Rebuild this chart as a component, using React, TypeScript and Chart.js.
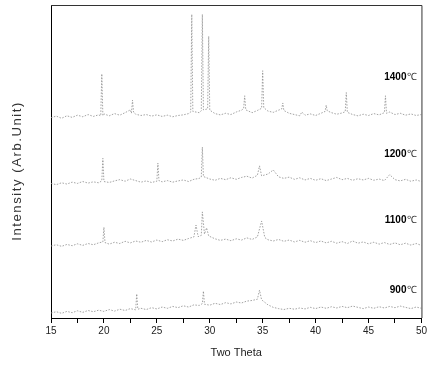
import React, { useEffect, useRef } from 'react';
import { Chart, registerables } from 'chart.js';

Chart.register(...registerables);

// Two-theta positions and intensities (arbitrary units, stacked) for each sample
const theta1400 = [15, 15.5, 16, 16.5, 17, 17.5, 18, 18.5, 19, 19.5, 19.7, 19.8, 19.9, 20, 20.5, 21, 21.5, 22, 22.5, 22.6, 22.7, 22.8, 23, 23.5, 24, 24.5, 25, 25.5, 26, 26.5, 27, 27.5, 28, 28.2, 28.3, 28.4, 29, 29.2, 29.3, 29.4, 29.8, 29.9, 30, 30.5, 31, 31.5, 32, 32.5, 33, 33.2, 33.3, 33.4, 34, 34.5, 34.9, 35, 35.1, 35.5, 36, 36.5, 36.8, 36.9, 37, 37.5, 38, 38.5, 38.7, 39, 39.5, 40, 40.5, 40.9, 41, 41.1, 41.5, 42, 42.5, 42.8, 42.9, 43, 43.5, 44, 44.5, 45, 45.5, 46, 46.5, 46.6, 46.7, 47, 47.5, 48, 48.5, 49, 49.5, 50];
const int1400 = [64.0, 64.5, 63.8, 64.6, 64.1, 64.8, 64.3, 65.0, 64.4, 64.9, 64.6, 78.0, 64.7, 65.2, 64.6, 65.3, 64.8, 65.6, 66.5, 65.4, 69.6, 65.8, 65.1, 64.7, 65.0, 64.5, 64.9, 64.4, 64.8, 64.3, 64.7, 64.9, 65.3, 65.8, 97.0, 66.0, 65.6, 66.2, 97.0, 66.5, 66.8, 90.0, 66.4, 65.3, 64.9, 65.4, 65.0, 65.8, 66.4, 66.9, 71.0, 66.5, 65.6, 66.3, 67.0, 79.0, 67.2, 66.1, 65.7, 66.4, 66.8, 68.7, 66.3, 65.4, 65.0, 64.6, 65.8, 64.8, 65.2, 64.7, 65.4, 66.0, 68.0, 66.2, 65.6, 65.1, 65.5, 65.9, 72.0, 65.7, 65.0, 64.6, 65.1, 64.7, 65.3, 64.9, 65.6, 71.0, 65.4, 65.8, 65.0, 65.4, 64.8, 65.2, 64.7, 65.0];

const theta1200 = [15, 15.5, 16, 16.5, 17, 17.5, 18, 18.5, 19, 19.5, 19.8, 19.9, 20, 20.5, 21, 21.5, 22, 22.5, 23, 23.5, 24, 24.5, 25, 25.1, 25.2, 25.5, 26, 26.5, 27, 27.5, 28, 28.5, 29, 29.2, 29.3, 29.4, 30, 30.5, 31, 31.5, 32, 32.5, 33, 33.5, 34, 34.5, 34.7, 34.9, 35.5, 36, 36.5, 37, 37.5, 38, 38.5, 39, 39.5, 40, 40.5, 41, 41.5, 42, 42.5, 43, 43.5, 44, 44.5, 45, 45.5, 46, 46.5, 47, 47.5, 48, 48.5, 49, 49.5, 50];
const int1200 = [43.0, 42.6, 43.2, 42.8, 43.4, 43.0, 43.6, 43.1, 43.5, 43.2, 43.8, 51.0, 43.6, 43.3, 43.8, 44.2, 43.7, 44.4, 43.9, 43.4, 43.8, 43.3, 43.7, 49.5, 43.9, 43.5, 43.9, 43.4, 43.8, 44.1, 43.6, 44.3, 44.6, 45.0, 54.6, 45.2, 44.4, 44.0, 44.6, 44.2, 44.8, 44.3, 44.9, 45.3, 44.7, 45.6, 48.6, 45.4, 46.0, 47.3, 45.1, 44.6, 45.0, 44.3, 44.8, 44.1, 44.6, 44.0, 44.5, 43.9, 44.4, 44.9, 44.2, 44.6, 44.0, 44.5, 44.1, 44.6, 44.0, 44.4, 43.9, 45.8, 44.2, 43.8, 44.3, 43.7, 44.1, 43.6];

const theta1100 = [15, 15.5, 16, 16.5, 17, 17.5, 18, 18.5, 19, 19.5, 19.9, 20, 20.1, 20.5, 21, 21.5, 22, 22.5, 23, 23.5, 24, 24.5, 25, 25.5, 26, 26.5, 27, 27.5, 28, 28.5, 28.7, 28.9, 29.2, 29.3, 29.5, 29.7, 29.9, 30.5, 31, 31.5, 32, 32.5, 33, 33.5, 34, 34.5, 34.9, 35.2, 35.5, 36, 36.5, 37, 37.5, 38, 38.5, 39, 39.5, 40, 40.5, 41, 41.5, 42, 42.5, 43, 43.5, 44, 44.5, 45, 45.5, 46, 46.5, 47, 47.5, 48, 48.5, 49, 49.5, 50];
const int1100 = [23.0, 23.4, 22.9, 23.5, 23.1, 23.7, 23.2, 23.8, 23.4, 24.0, 24.3, 29.0, 24.1, 23.6, 24.2, 23.8, 24.5, 24.0, 24.6, 24.2, 24.8, 24.3, 24.9, 24.4, 25.0, 24.6, 25.2, 24.8, 25.4, 25.9, 29.7, 26.0, 26.4, 33.9, 26.8, 28.8, 26.2, 25.3, 24.8, 25.2, 24.7, 25.3, 24.9, 25.6, 25.1, 25.9, 31.0, 25.7, 25.0, 24.6, 25.1, 24.5, 24.9, 24.3, 24.8, 24.2, 24.7, 24.1, 24.6, 24.0, 24.5, 23.9, 24.4, 23.8, 24.6, 23.9, 24.3, 23.7, 24.2, 23.6, 24.1, 23.5, 24.0, 23.4, 23.9, 23.3, 23.8, 23.2];

const theta900 = [15, 15.5, 16, 16.5, 17, 17.5, 18, 18.5, 19, 19.5, 20, 20.5, 21, 21.5, 22, 22.5, 23, 23.1, 23.2, 23.5, 24, 24.5, 25, 25.5, 26, 26.5, 27, 27.5, 28, 28.5, 29, 29.3, 29.4, 29.5, 30, 30.5, 31, 31.5, 32, 32.5, 33, 33.5, 34, 34.5, 34.7, 34.9, 35.5, 36, 36.5, 37, 37.5, 38, 38.5, 39, 39.5, 40, 40.5, 41, 41.5, 42, 42.5, 43, 43.5, 44, 44.5, 45, 45.5, 46, 46.5, 47, 47.5, 48, 48.5, 49, 49.5, 50];
const int900 = [1.6, 2.0, 1.5, 2.1, 1.7, 2.3, 1.8, 2.4, 2.0, 2.5, 2.1, 2.7, 2.2, 2.8, 2.4, 3.0, 2.6, 7.7, 2.8, 3.1, 2.7, 3.3, 2.9, 3.5, 3.1, 3.7, 3.3, 3.9, 3.5, 4.2, 4.0, 4.6, 8.6, 4.4, 4.1, 4.7, 4.3, 4.9, 4.5, 5.1, 4.8, 5.4, 5.6, 6.0, 8.9, 5.8, 4.2, 3.4, 3.0, 2.7, 3.1, 2.8, 3.2, 2.9, 3.4, 3.0, 3.5, 3.1, 3.6, 3.2, 3.7, 3.3, 3.8, 3.4, 3.0, 3.5, 3.1, 3.6, 3.2, 3.7, 3.3, 3.8, 3.4, 3.0, 3.5, 3.1];

const sampleNames = ['1400', '1200', '1100', '900'];
const xTickLabels = [15, 20, 25, 30, 35, 40, 45, 50];
const yTitle = 'Intensity (Arb.Unit)';

const toPoints = (xs: number[], ys: number[]) => xs.map((x, i) => ({ x, y: ys[i] }));

const FONT = '"Liberation Sans", Arial, sans-serif';

const frameAndLabels = {
  id: 'frameAndLabels',
  afterDraw(chart: any) {
    const { ctx, chartArea } = chart;
    const yScale = chart.scales.y;
    ctx.save();
    ctx.strokeStyle = '#333';
    ctx.lineWidth = 1;
    ctx.beginPath();
    ctx.moveTo(chartArea.left, chartArea.top + 0.5);
    ctx.lineTo(chartArea.right + 0.5, chartArea.top + 0.5);
    ctx.lineTo(chartArea.right + 0.5, chartArea.bottom);
    ctx.stroke();

    const levels = [77, 52.4, 31.3, 8.9];
    const xRight = chartArea.right - 4;
    ctx.textBaseline = 'middle';
    sampleNames.forEach((name, i) => {
      const y = yScale.getPixelForValue(levels[i]);
      ctx.font = `10px ${FONT}`;
      ctx.fillStyle = '#333';
      ctx.textAlign = 'right';
      ctx.fillText('℃', xRight, y);
      const w = ctx.measureText('℃').width;
      ctx.font = `bold 10px ${FONT}`;
      ctx.fillStyle = '#000';
      ctx.fillText(name, xRight - w - 1, y);
    });

    // y-axis title
    ctx.save();
    ctx.translate(17, yScale.getPixelForValue(47));
    ctx.rotate(-Math.PI / 2);
    ctx.font = `13px ${FONT}`;
    (ctx as any).letterSpacing = '1.6px';
    ctx.fillStyle = '#333';
    ctx.textAlign = 'center';
    ctx.textBaseline = 'middle';
    ctx.fillText(yTitle, 0, 0);
    ctx.restore();
    ctx.restore();
  },
};

export default function App() {
  const ref = useRef<HTMLCanvasElement | null>(null);
  useEffect(() => {
    if (!ref.current) return;
    const lineStyle = { borderColor: '#8c8c8c', borderWidth: 0.8, borderDash: [1.5, 1.5], pointRadius: 0, fill: false, tension: 0 };
    const chart = new Chart(ref.current, {
      type: 'line',
      data: {
        datasets: [
          { label: '1400', data: toPoints(theta1400, int1400), ...lineStyle },
          { label: '1200', data: toPoints(theta1200, int1200), ...lineStyle },
          { label: '1100', data: toPoints(theta1100, int1100), ...lineStyle },
          { label: '900', data: toPoints(theta900, int900), ...lineStyle },
        ],
      },
      options: {
        responsive: false,
        animation: false,
        devicePixelRatio: 1,
        layout: { padding: { top: 5, right: 7, left: 0, bottom: 0 } },
        plugins: { legend: { display: false }, tooltip: { enabled: false } },
        scales: {
          x: {
            type: 'linear',
            min: 15,
            max: 50,
            afterFit: (s: any) => { s.height = 48; },
            ticks: {
              stepSize: 2.5,
              autoSkip: false,
              maxRotation: 0,
              padding: 2,
              color: '#222',
              font: { family: FONT, size: 10 },
              callback: (v: any) => (xTickLabels.includes(Number(v)) ? String(v) : ''),
            },
            grid: { drawOnChartArea: false, drawTicks: true, tickLength: 5, color: '#000', lineWidth: 1 },
            border: { display: true, color: '#000', width: 1 },
            title: {
              display: true,
              text: 'Two Theta',
              color: '#222',
              font: { family: FONT, size: 11 },
              padding: { top: 0, bottom: 6 },
            },
          },
          y: {
            min: 0,
            max: 100,
            afterFit: (s: any) => { s.width = 51; },
            ticks: { display: false },
            grid: { drawOnChartArea: false, drawTicks: false },
            border: { display: true, color: '#000', width: 1 },
            title: { display: false },
          },
        },
      },
      plugins: [frameAndLabels],
    });
    return () => chart.destroy();
  }, []);
  return (
    <div style={{ position: 'fixed', left: 0, top: 0, width: 429, height: 366, background: '#fff' }}>
      <canvas ref={ref} width={429} height={366} style={{ display: 'block' }} />
    </div>
  );
}
